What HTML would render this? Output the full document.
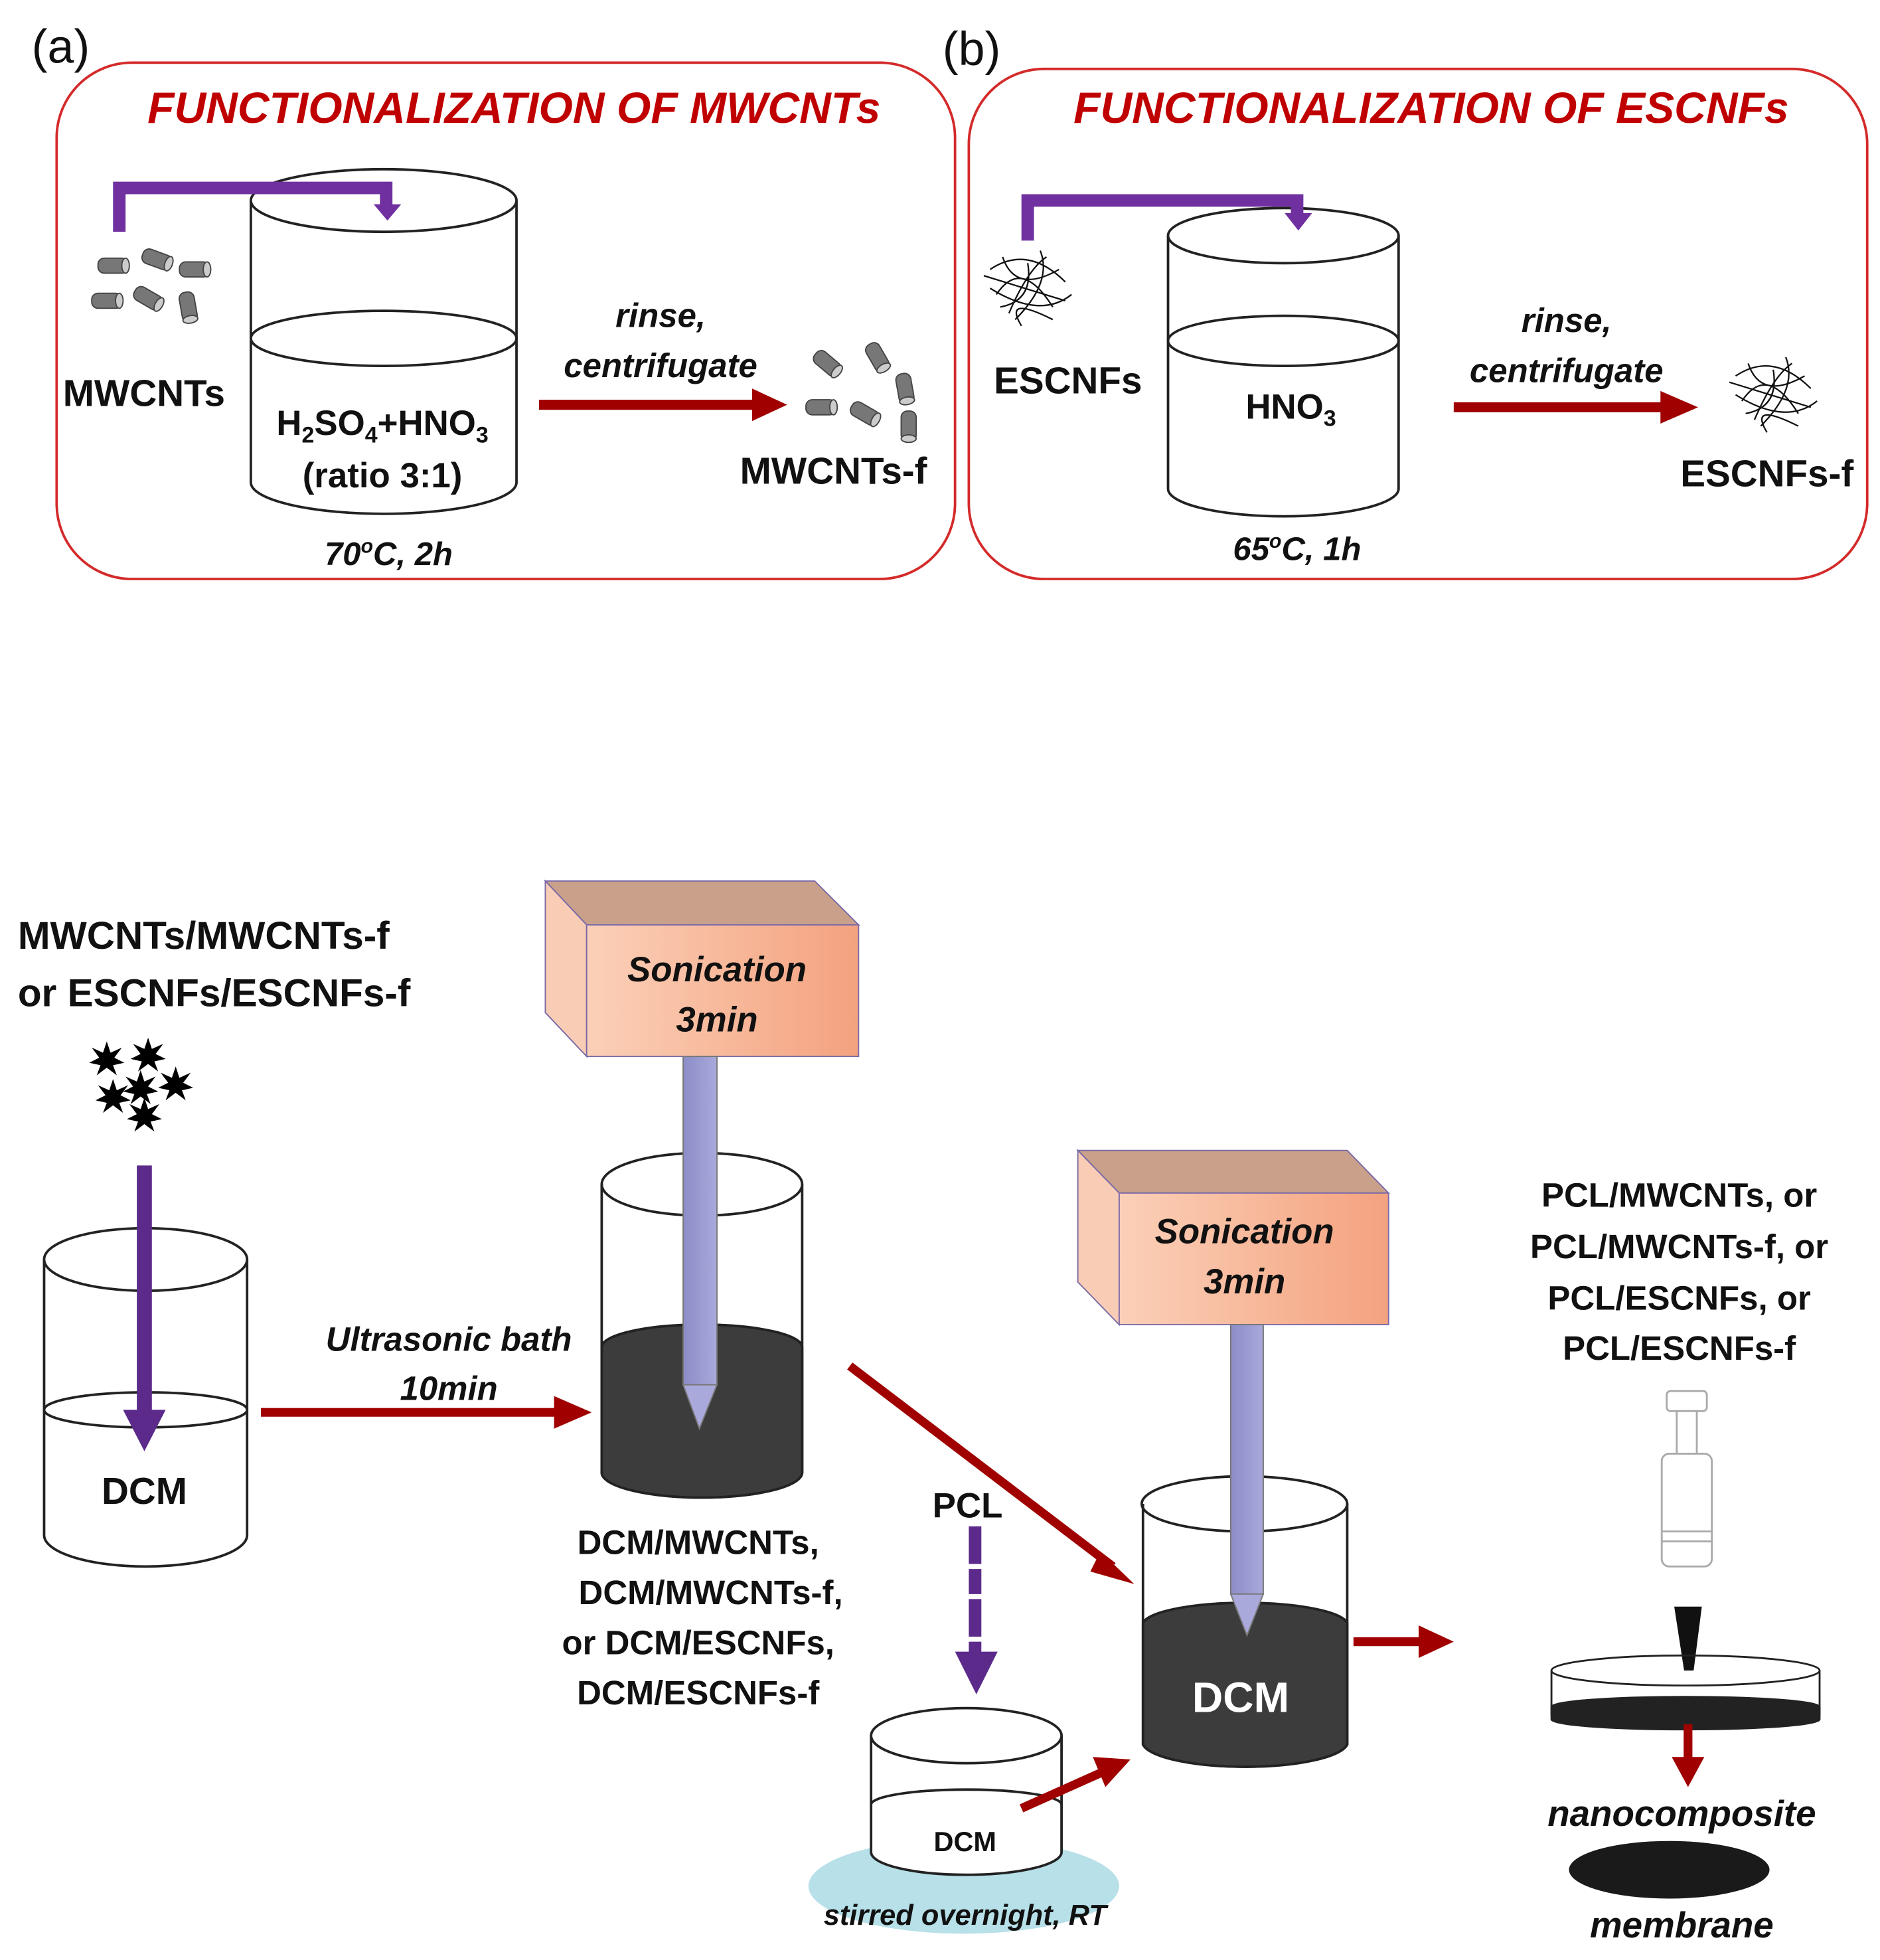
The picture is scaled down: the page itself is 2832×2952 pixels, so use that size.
<!DOCTYPE html>
<html><head><meta charset="utf-8"><style>
html,body{margin:0;padding:0;background:#fff}
svg{display:block}
text{font-family:"Liberation Sans",sans-serif;font-weight:bold;fill:#111}
.it{font-style:italic}
.t{fill:#c00000;font-style:italic;font-size:35px}
</style></head><body>
<svg width="2832" height="2952" viewBox="0 0 1500 1564" xmlns="http://www.w3.org/2000/svg">
<defs>
<linearGradient id="sg" x1="0" x2="1"><stop offset="0" stop-color="#fbd0b8"/><stop offset="1" stop-color="#f4a27f"/></linearGradient>
<linearGradient id="pg" x1="0" x2="1"><stop offset="0" stop-color="#8c8cc8"/><stop offset="1" stop-color="#a9a9dc"/></linearGradient>
<g id="cnt"><rect x="-12" y="-6" width="24" height="12" rx="5" fill="#777" stroke="#444"/><ellipse cx="10" cy="0" rx="3" ry="6" fill="#ccc" stroke="#444"/></g>
<g id="fib" fill="none" stroke="#111" stroke-width="1.2"><path d="M0 10 Q30 -10 60 20 M5 30 Q25 0 50 40 M10 0 Q20 30 55 10 M0 25 Q40 50 65 30 M15 45 Q30 10 45 0 M20 50 Q50 20 40 -5 M-5 15 L60 35 M8 40 Q35 35 30 5 M25 55 Q10 30 50 50"/></g>
<g id="star" fill="#000"><polygon points="0,-14 3,-5 12,-9 6,-1 14,3 5,5 8,13 0,7 -8,13 -5,5 -14,3 -6,-1 -12,-9 -3,-5"/></g>
</defs>
<text x="25" y="50" style="font-weight:normal;font-size:38px">(a)</text>
<text x="752" y="52" style="font-weight:normal;font-size:38px">(b)</text>
<rect x="45" y="50" width="717" height="412" rx="60" fill="none" stroke="#d42a2a" stroke-width="2"/>
<rect x="773" y="55" width="717" height="407" rx="60" fill="none" stroke="#d42a2a" stroke-width="2"/>
<text class="t" x="410" y="98" text-anchor="middle">FUNCTIONALIZATION OF MWCNTs</text>
<text class="t" x="1142" y="98" text-anchor="middle">FUNCTIONALIZATION OF ESCNFs</text>
<!-- panel a -->
<g stroke="#222" stroke-width="2" fill="#fff">
<path d="M200 160 V385 A106 25 0 0 0 412 385 V160"/>
<ellipse cx="306" cy="160" rx="106" ry="25"/>
<path d="M200 270 A106 22 0 0 1 412 270 A106 22 0 0 1 200 270" fill="none"/>
</g>
<path d="M95 185 V150 H308 V165" fill="none" stroke="#7030a0" stroke-width="10"/>
<polygon points="298,163 320,163 309,176" fill="#7030a0"/>
<g>
<use href="#cnt" x="90" y="212"/><use href="#cnt" x="125" y="207" transform="rotate(20 125 207)"/><use href="#cnt" x="155" y="215"/><use href="#cnt" x="85" y="240"/><use href="#cnt" x="118" y="238" transform="rotate(30 118 238)"/><use href="#cnt" x="150" y="245" transform="rotate(80 150 245)"/>
<use href="#cnt" x="660" y="290" transform="rotate(40 660 290)"/><use href="#cnt" x="700" y="285" transform="rotate(60 700 285)"/><use href="#cnt" x="722" y="310" transform="rotate(80 722 310)"/><use href="#cnt" x="655" y="325"/><use href="#cnt" x="690" y="330" transform="rotate(30 690 330)"/><use href="#cnt" x="725" y="340" transform="rotate(90 725 340)"/>
</g>
<text x="50" y="324" font-size="30">MWCNTs</text>
<text x="305" y="347" font-size="28" text-anchor="middle">H<tspan font-size="18" dy="6">2</tspan><tspan dy="-6">SO</tspan><tspan font-size="18" dy="6">4</tspan><tspan dy="-6">+HNO</tspan><tspan font-size="18" dy="6">3</tspan></text>
<text x="305" y="389" font-size="28" text-anchor="middle">(ratio 3:1)</text>
<text class="it" x="310" y="451" font-size="26" text-anchor="middle">70<tspan font-size="16" dy="-10">o</tspan><tspan dy="10">C, 2h</tspan></text>
<text class="it" x="527" y="261" font-size="27" text-anchor="middle">rinse,</text>
<text class="it" x="527" y="301" font-size="27" text-anchor="middle">centrifugate</text>
<line x1="430" y1="323" x2="605" y2="323" stroke="#a00000" stroke-width="8"/>
<polygon points="600,310 628,323 600,336" fill="#a00000"/>
<text x="665" y="386" font-size="30" text-anchor="middle">MWCNTs-f</text>
<!-- panel b -->
<g stroke="#222" stroke-width="2" fill="#fff">
<path d="M932 188 V390 A92 22 0 0 0 1116 390 V188"/>
<ellipse cx="1024" cy="188" rx="92" ry="22"/>
<path d="M932 272 A92 20 0 0 1 1116 272 A92 20 0 0 1 932 272" fill="none"/>
</g>
<path d="M820 192 V160 H1035 V172" fill="none" stroke="#7030a0" stroke-width="10"/>
<polygon points="1025,170 1047,170 1036,184" fill="#7030a0"/>
<use href="#fib" x="790" y="205"/><use href="#fib" x="1385" y="290"/>
<text x="793" y="314" font-size="30">ESCNFs</text>
<text x="1030" y="334" font-size="28" text-anchor="middle">HNO<tspan font-size="18" dy="6">3</tspan></text>
<text class="it" x="1035" y="447" font-size="26" text-anchor="middle">65<tspan font-size="16" dy="-10">o</tspan><tspan dy="10">C, 1h</tspan></text>
<text class="it" x="1250" y="265" font-size="27" text-anchor="middle">rinse,</text>
<text class="it" x="1250" y="305" font-size="27" text-anchor="middle">centrifugate</text>
<line x1="1160" y1="325" x2="1330" y2="325" stroke="#a00000" stroke-width="8"/>
<polygon points="1325,312 1355,325 1325,338" fill="#a00000"/>
<text x="1410" y="388" font-size="30" text-anchor="middle">ESCNFs-f</text>
<!-- bottom -->
<text x="14" y="757" font-size="31">MWCNTs/MWCNTs-f</text>
<text x="14" y="803" font-size="31">or ESCNFs/ESCNFs-f</text>
<use href="#star" x="85" y="845"/><use href="#star" x="118" y="842"/><use href="#star" x="140" y="865"/><use href="#star" x="90" y="875"/><use href="#star" x="112" y="868"/><use href="#star" x="115" y="890"/>
<g stroke="#222" stroke-width="2" fill="#fff">
<path d="M35 1005 V1225 A81 25 0 0 0 197 1225 V1005"/>
<ellipse cx="116" cy="1005" rx="81" ry="25"/>
<path d="M35 1125 A81 14 0 0 1 197 1125 A81 14 0 0 1 35 1125" fill="none"/>
</g>
<line x1="115" y1="930" x2="115" y2="1128" stroke="#5b2a8a" stroke-width="12"/>
<polygon points="98,1125 132,1125 115,1158" fill="#5b2a8a"/>
<text x="115" y="1200" font-size="30" text-anchor="middle">DCM</text>
<text class="it" x="358" y="1078" font-size="27" text-anchor="middle">Ultrasonic bath</text>
<text class="it" x="358" y="1117" font-size="27" text-anchor="middle">10min</text>
<line x1="208" y1="1127" x2="445" y2="1127" stroke="#a00000" stroke-width="7"/>
<polygon points="442,1114 472,1127 442,1140" fill="#a00000"/>
<!-- beaker 2 -->
<g stroke="#222" stroke-width="2">
<path d="M480 945 V1175 A80 20 0 0 0 640 1175 V945" fill="#fff"/>
<path d="M480 1075 A80 18 0 0 1 640 1075 V1175 A80 20 0 0 1 480 1175 Z" fill="#3c3c3c"/>
<ellipse cx="560" cy="945" rx="80" ry="25" fill="none"/>
</g>
<!-- sonication box 1 -->
<polygon points="435,703 650,703 685,738 468,738" fill="#c9a08a" stroke="#7a6aa8"/>
<polygon points="435,703 468,738 468,843 435,808" fill="#f9cdb5" stroke="#7a6aa8"/>
<rect x="468" y="738" width="217" height="105" fill="url(#sg)" stroke="#7a6aa8"/>
<text class="it" x="572" y="783" font-size="28" text-anchor="middle">Sonication</text>
<text class="it" x="572" y="823" font-size="28" text-anchor="middle">3min</text>
<rect x="545" y="843" width="27" height="262" fill="url(#pg)" stroke="#777"/>
<polygon points="545,1105 572,1105 558,1140" fill="#a9a9dc" stroke="#777"/>
<text x="557" y="1240" font-size="27" text-anchor="middle">DCM/MWCNTs,</text>
<text x="567" y="1280" font-size="27" text-anchor="middle">DCM/MWCNTs-f,</text>
<text x="557" y="1320" font-size="27" text-anchor="middle">or DCM/ESCNFs,</text>
<text x="557" y="1360" font-size="27" text-anchor="middle">DCM/ESCNFs-f</text>
<line x1="678" y1="1090" x2="888" y2="1250" stroke="#a00000" stroke-width="7"/>
<polygon points="878,1238 905,1264 870,1254" fill="#a00000"/>
<text x="772" y="1211" font-size="28" text-anchor="middle">PCL</text>
<line x1="778" y1="1218" x2="778" y2="1320" stroke="#5b2a8a" stroke-width="10" stroke-dasharray="30 4 20 4"/>
<polygon points="762,1318 796,1318 779,1352" fill="#5b2a8a"/>
<!-- small beaker -->
<ellipse cx="769" cy="1505" rx="124" ry="38" fill="#b7e0e8"/>
<g stroke="#222" stroke-width="2" fill="#fff">
<path d="M695 1385 V1478 A76 18 0 0 0 847 1478 V1385"/>
<ellipse cx="771" cy="1385" rx="76" ry="22"/>
<path d="M695 1440 A76 12 0 0 1 847 1440" fill="none"/>
</g>
<text x="770" y="1477" font-size="22" text-anchor="middle">DCM</text>
<text class="it" x="770" y="1536" font-size="23" text-anchor="middle">stirred overnight, RT</text>
<line x1="815" y1="1443" x2="882" y2="1413" stroke="#a00000" stroke-width="7"/>
<polygon points="872,1402 902,1404 882,1426" fill="#a00000"/>
<!-- beaker 3 -->
<g stroke="#222" stroke-width="2">
<path d="M912 1200 V1392 A82 20 0 0 0 1075 1392 V1200" fill="#fff"/>
<path d="M912 1295 A82 18 0 0 1 1075 1295 V1392 A82 20 0 0 1 912 1392 Z" fill="#3c3c3c"/>
<ellipse cx="993" cy="1200" rx="82" ry="22" fill="none"/>
</g>
<text x="990" y="1366" font-size="34" text-anchor="middle" style="fill:#fff">DCM</text>
<polygon points="860,918 1075,918 1108,952 893,952" fill="#c9a08a" stroke="#7a6aa8"/>
<polygon points="860,918 893,952 893,1057 860,1023" fill="#f9cdb5" stroke="#7a6aa8"/>
<rect x="893" y="952" width="215" height="105" fill="url(#sg)" stroke="#7a6aa8"/>
<text class="it" x="993" y="992" font-size="28" text-anchor="middle">Sonication</text>
<text class="it" x="993" y="1032" font-size="28" text-anchor="middle">3min</text>
<rect x="982" y="1057" width="26" height="215" fill="url(#pg)" stroke="#777"/>
<polygon points="982,1272 1008,1272 995,1305" fill="#a9a9dc" stroke="#777"/>
<line x1="1080" y1="1310" x2="1135" y2="1310" stroke="#a00000" stroke-width="7"/>
<polygon points="1132,1297 1160,1310 1132,1323" fill="#a00000"/>
<text x="1340" y="963" font-size="27" text-anchor="middle">PCL/MWCNTs, or</text>
<text x="1340" y="1004" font-size="27" text-anchor="middle">PCL/MWCNTs-f, or</text>
<text x="1340" y="1045" font-size="27" text-anchor="middle">PCL/ESCNFs, or</text>
<text x="1340" y="1085" font-size="27" text-anchor="middle">PCL/ESCNFs-f</text>
<!-- syringe -->
<g fill="#fff" stroke="#aaa" stroke-width="1.5">
<rect x="1330" y="1110" width="32" height="16" rx="3"/>
<rect x="1338" y="1126" width="16" height="34"/>
<rect x="1326" y="1160" width="40" height="90" rx="6"/>
<line x1="1326" y1="1222" x2="1366" y2="1222"/><line x1="1326" y1="1230" x2="1366" y2="1230"/>
</g>
<polygon points="1336,1282 1358,1282 1348,1360" fill="#111"/>
<g stroke="#222" stroke-width="1.5">
<path d="M1238 1333 V1368 A107 10 0 0 0 1452 1368 V1333" fill="#fff"/>
<path d="M1238 1362 A107 8 0 0 1 1452 1362 V1372 A107 8 0 0 1 1238 1372 Z" fill="#222"/>
<ellipse cx="1345" cy="1333" rx="107" ry="12" fill="none"/>
</g>
<line x1="1347" y1="1376" x2="1347" y2="1405" stroke="#a00000" stroke-width="7"/>
<polygon points="1334,1402 1360,1402 1347,1426" fill="#a00000"/>
<text class="it" x="1342" y="1457" font-size="29" text-anchor="middle">nanocomposite</text>
<ellipse cx="1332" cy="1492" rx="80" ry="23" fill="#1a1a1a"/>
<text class="it" x="1342" y="1546" font-size="29" text-anchor="middle">membrane</text>
</svg>
</body></html>
